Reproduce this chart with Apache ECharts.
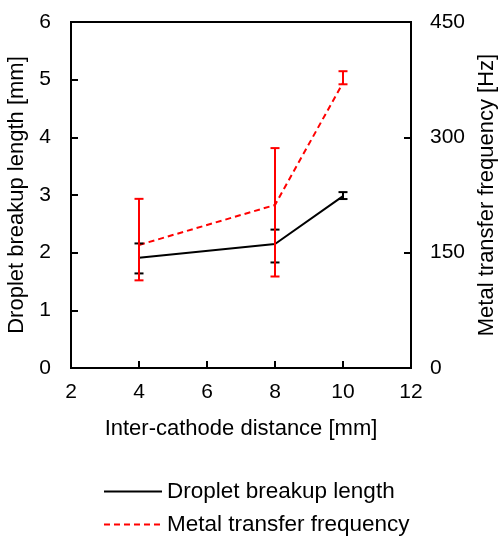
<!DOCTYPE html>
<html><head><meta charset="utf-8">
<script src="https://cdn.jsdelivr.net/npm/echarts@6/dist/echarts.min.js"></script>
<style>html,body{margin:0;padding:0;background:#fff}#c{width:498px;height:539px}</style>
</head><body><div id="c"></div>
<script>
const distances = [4, 8, 10];
const breakupLength = [1.91, 2.15, 2.98];
const breakupLow = [1.64, 1.83, 2.93];
const breakupHigh = [2.16, 2.40, 3.05];
const frequency = [160, 212, 371];
const frequencyLow = [114, 119, 369];
const frequencyHigh = [220, 286, 386];
const leftTicks = [0, 1, 2, 3, 4, 5, 6];
const rightTicks = [0, 150, 300, 450];
const xTicks = [2, 4, 6, 8, 10, 12];
const seriesNames = ['Droplet breakup length', 'Metal transfer frequency'];

const font = 'Liberation Sans, Arial, sans-serif';
function errBar(color, cap, lw) {
  return function (params, api) {
    const x = api.value(0);
    const lo = api.coord([x, api.value(1)]);
    const hi = api.coord([x, api.value(2)]);
    const st = {stroke: color, lineWidth: lw};
    return {type: 'group', children: [
      {type: 'line', shape: {x1: lo[0], y1: lo[1], x2: hi[0], y2: hi[1]}, style: st},
      {type: 'line', shape: {x1: lo[0] - cap, y1: lo[1], x2: lo[0] + cap, y2: lo[1]}, style: st},
      {type: 'line', shape: {x1: hi[0] - cap, y1: hi[1], x2: hi[0] + cap, y2: hi[1]}, style: st}
    ]};
  };
}
const chart = echarts.init(document.getElementById('c'));
const axisLbl = {color: '#000', fontSize: 21, fontFamily: font};
const nameStyle = {color: '#000', fontSize: 22, fontFamily: font};
function legendAt(top, name) {
  return {
    orient: 'horizontal', left: 103, top: top, itemWidth: 58, itemHeight: 14, itemGap: 0, padding: 0,
    textStyle: {color: '#000', fontSize: 22.5, fontFamily: font},
    itemStyle: {opacity: 0},
    data: [name]
  };
}
chart.setOption({
  animation: false,
  grid: {left: 71, right: 87, top: 22, bottom: 171, containLabel: false, outerBoundsMode: 'none',
         show: true, borderColor: '#000', borderWidth: 2, backgroundColor: 'transparent'},
  legend: [legendAt(480, seriesNames[0]), legendAt(513, seriesNames[1])],
  xAxis: {
    type: 'value', min: xTicks[0], max: xTicks[xTicks.length - 1], interval: 2,
    name: 'Inter-cathode distance [mm]', nameLocation: 'middle', nameGap: 50,
    nameTextStyle: nameStyle,
    axisLine: {show: true, lineStyle: {color: '#000', width: 2}},
    axisTick: {show: true, inside: true, length: 7, lineStyle: {color: '#000', width: 2}},
    axisLabel: Object.assign({margin: 14}, axisLbl),
    splitLine: {show: false}
  },
  yAxis: [{
    type: 'value', min: leftTicks[0], max: leftTicks[leftTicks.length - 1], interval: 1,
    name: 'Droplet breakup length [mm]', nameLocation: 'middle', nameGap: 39, nameRotate: 90,
    nameTextStyle: nameStyle,
    axisLine: {show: true, lineStyle: {color: '#000', width: 2}},
    axisTick: {show: true, inside: true, length: 7, lineStyle: {color: '#000', width: 2}},
    axisLabel: Object.assign({margin: 20}, axisLbl),
    splitLine: {show: false}
  }, {
    type: 'value', min: rightTicks[0], max: rightTicks[rightTicks.length - 1], interval: 150,
    name: 'Metal transfer frequency [Hz]', nameLocation: 'middle', nameGap: 65, nameRotate: 90,
    nameTextStyle: nameStyle,
    axisLine: {show: true, lineStyle: {color: '#000', width: 2}},
    axisTick: {show: true, inside: true, length: 7, lineStyle: {color: '#000', width: 2}},
    axisLabel: Object.assign({margin: 19}, axisLbl),
    splitLine: {show: false}
  }],
  series: [{
    name: seriesNames[0], type: 'line', yAxisIndex: 0,
    data: distances.map((d, i) => [d, breakupLength[i]]),
    symbol: 'none', lineStyle: {color: '#000', width: 2}, itemStyle: {color: '#000'}, z: 3
  }, {
    name: seriesNames[1], type: 'line', yAxisIndex: 1,
    data: distances.map((d, i) => [d, frequency[i]]),
    symbol: 'none', lineStyle: {color: '#ff0000', width: 2, type: [6, 4]}, itemStyle: {color: '#ff0000'}, z: 3
  }, {
    name: 'breakupErr', type: 'custom', yAxisIndex: 0,
    data: distances.map((d, i) => [d, breakupLow[i], breakupHigh[i]]),
    renderItem: errBar('#000', 4.5, 2), z: 4
  }, {
    name: 'freqErr', type: 'custom', yAxisIndex: 1,
    data: distances.map((d, i) => [d, frequencyLow[i], frequencyHigh[i]]),
    renderItem: errBar('#ff0000', 4.5, 2), z: 5
  }]
});
</script></body></html>
